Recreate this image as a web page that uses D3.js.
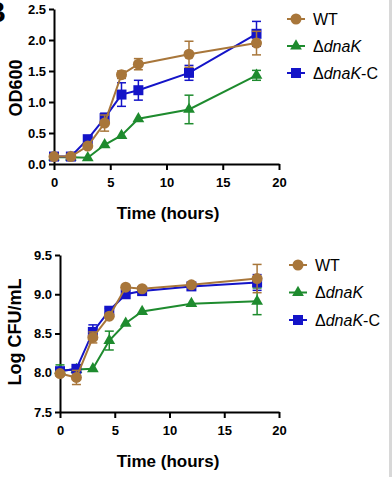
<!DOCTYPE html>
<html>
<head>
<meta charset="utf-8">
<script src="https://cdn.jsdelivr.net/npm/d3@7"></script>
<style>
body { margin: 0; background: #fff; }
svg { display: block; font-family: "Liberation Sans", Arial, sans-serif; }
</style>
</head>
<body>
<script>
var times = [0, 1.5, 3, 4.5, 6, 7.5, 12, 18];

// OD600
var odWT = [0.12, 0.12, 0.29, 0.66, 1.44, 1.61, 1.77, 1.95];
var odWTerr = [0, 0, 0.03, 0.13, 0.06, 0.09, 0.21, 0.19];
var odKO = [0.11, 0.11, 0.1, 0.31, 0.46, 0.73, 0.88, 1.43];
var odKOerr = [0, 0, 0, 0, 0, 0, 0.23, 0.08];
var odC = [0.12, 0.12, 0.4, 0.74, 1.12, 1.19, 1.47, 2.1];
var odCerr = [0, 0, 0.03, 0.08, 0.19, 0.16, 0.12, 0.2];

// Log CFU/mL
var cfuWT = [7.99, 7.94, 8.45, 8.72, 9.09, 9.07, 9.12, 9.2];
var cfuWTerr = [0, 0.09, 0.07, 0, 0, 0, 0, 0.18];
var cfuKO = [8.03, 8.04, 8.05, 8.41, 8.63, 8.78, 8.88, 8.91];
var cfuKOerr = [0.07, 0, 0, 0.12, 0, 0, 0, 0.17];
var cfuC = [8.02, 8.05, 8.52, 8.79, 9.0, 9.04, 9.1, 9.15];
var cfuCerr = [0.02, 0.03, 0.09, 0.03, 0, 0, 0, 0.1];

var xTicks = [0, 5, 10, 15, 20];
var odTicks = [0, 0.5, 1.0, 1.5, 2.0, 2.5];
var cfuTicks = [7.5, 8.0, 8.5, 9.0, 9.5];

var colWT = "#a8763a", colKO = "#1e8b2e", colC = "#1414c8";

var svg = d3.select("body").append("svg").attr("width", 392).attr("height", 477);

svg.append("rect").attr("x", 389).attr("y", 0).attr("width", 3).attr("height", 477).attr("fill", "#d8d8d8");

// panel letter, cut off at the left edge as in the figure
svg.append("text").attr("x", 6).attr("y", 22).attr("text-anchor", "end")
  .attr("font-size", 30).attr("font-weight", "bold").text("B");

function symbol(g, type, color, x, y) {
  if (type == "circle") {
    g.append("circle").attr("cx", x).attr("cy", y).attr("r", 5.5).attr("fill", color);
  } else if (type == "square") {
    g.append("rect").attr("x", x - 5).attr("y", y - 5).attr("width", 10).attr("height", 10).attr("fill", color);
  } else {
    g.append("path").attr("d", d3.symbol().type(d3.symbolTriangle).size(60)())
      .attr("transform", "translate(" + x + "," + y + ")").attr("fill", color);
  }
}

function panel(cfg) {
  var x = d3.scaleLinear().domain([0, 20]).range([cfg.x0, 279]);
  var y = d3.scaleLinear().domain(cfg.ydom).range([cfg.ybot, cfg.ytop]);
  var g = svg.append("g");

  var xa = g.append("g").attr("transform", "translate(0," + cfg.ybot + ")")
    .call(d3.axisBottom(x).tickValues(xTicks).tickSize(6).tickSizeOuter(0).tickFormat(d3.format("d")));
  var ya = g.append("g").attr("transform", "translate(" + cfg.x0 + ",0)")
    .call(d3.axisLeft(y).tickValues(cfg.yticks).tickSize(5).tickSizeOuter(0).tickFormat(d3.format(".1f")));
  [xa, ya].forEach(function(a) {
    a.selectAll("path, line").attr("stroke", "#000").attr("stroke-width", 2);
    a.selectAll("text").attr("font-size", 13).attr("font-weight", "bold").attr("fill", "#000")
      .attr("font-family", "Liberation Sans, Arial, sans-serif");
  });
  xa.selectAll("text").attr("dy", "1.05em");

  g.append("text").attr("x", 168).attr("y", cfg.ybot + 55).attr("text-anchor", "middle")
    .attr("font-size", 17).attr("font-weight", "bold").text("Time (hours)");
  g.append("text").attr("transform", "translate(" + cfg.ylabX + "," + cfg.ylabY + ") rotate(-90)")
    .attr("text-anchor", "middle").attr("font-size", 18).attr("font-weight", "bold").text(cfg.ylabel);

  var line = d3.line().x(function(d, i) { return x(times[i]); }).y(function(d) { return y(d); });

  cfg.series.forEach(function(s) {
    var sg = g.append("g");
    sg.append("path").attr("d", line(s.vals)).attr("fill", "none").attr("stroke", s.color).attr("stroke-width", 2);
    s.vals.forEach(function(v, i) {
      var e = s.err[i];
      if (e > 0) {
        var cx = x(times[i]);
        sg.append("line").attr("x1", cx).attr("x2", cx).attr("y1", y(v - e)).attr("y2", y(v + e))
          .attr("stroke", s.color).attr("stroke-width", 1.5);
        [v - e, v + e].forEach(function(w) {
          sg.append("line").attr("x1", cx - 4.5).attr("x2", cx + 4.5).attr("y1", y(w)).attr("y2", y(w))
            .attr("stroke", s.color).attr("stroke-width", 1.5);
        });
      }
    });
    s.vals.forEach(function(v, i) { symbol(sg, s.type, s.color, x(times[i]), y(v)); });
  });

  // legend
  var lg = g.append("g");
  cfg.legend.forEach(function(s, i) {
    var ly = cfg.legY + i * cfg.legGap;
    lg.append("line").attr("x1", cfg.legX - 9).attr("x2", cfg.legX + 9).attr("y1", ly).attr("y2", ly)
      .attr("stroke", s.color).attr("stroke-width", 2);
    symbol(lg, s.type, s.color, cfg.legX, ly);
    var t = lg.append("text").attr("x", cfg.legX + 17).attr("y", ly + 5.5).attr("font-size", 16);
    if (s.name == "WT") {
      t.text("WT");
    } else {
      t.append("tspan").text("\u0394");
      t.append("tspan").attr("font-style", "italic").text("dnaK");
      if (s.name == "C") t.append("tspan").text("-C");
    }
  });
}

var topSeries = [
  {name: "KO", type: "triangle", color: colKO, vals: odKO, err: odKOerr},
  {name: "C", type: "square", color: colC, vals: odC, err: odCerr},
  {name: "WT", type: "circle", color: colWT, vals: odWT, err: odWTerr}
];
var botSeries = [
  {name: "KO", type: "triangle", color: colKO, vals: cfuKO, err: cfuKOerr},
  {name: "C", type: "square", color: colC, vals: cfuC, err: cfuCerr},
  {name: "WT", type: "circle", color: colWT, vals: cfuWT, err: cfuWTerr}
];

panel({x0: 54, ybot: 164, ytop: 9, ydom: [0, 2.5], yticks: odTicks, ylabel: "OD600",
  ylabX: 22, ylabY: 88, series: topSeries, legend: [topSeries[2], topSeries[0], topSeries[1]],
  legX: 296, legY: 19, legGap: 27});
panel({x0: 60, ybot: 412, ytop: 255, ydom: [7.5, 9.5], yticks: cfuTicks, ylabel: "Log CFU/mL",
  ylabX: 21, ylabY: 332, series: botSeries, legend: [botSeries[2], botSeries[0], botSeries[1]],
  legX: 298, legY: 265, legGap: 27.5});
</script>
</body>
</html>
